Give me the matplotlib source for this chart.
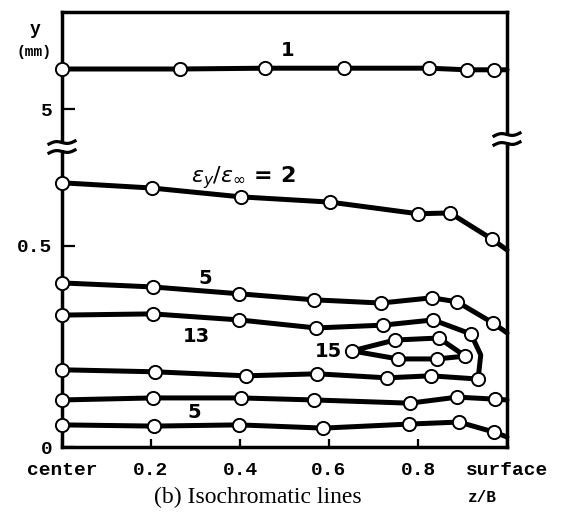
import numpy as np
import matplotlib
matplotlib.use("Agg")
import matplotlib.pyplot as plt
from matplotlib.lines import Line2D
from matplotlib.patches import Rectangle

# figure size in pixels
W, H = 562, 515

# --- contour data: z/B (0 = center, 1 = surface) vs y (mm) ---
# upper panel (broken axis), eps_y/eps_inf = 1
line1_z = [0.0, 0.265, 0.456, 0.634, 0.825, 0.910, 0.971, 1.0]
line1_y = [6.0, 6.0, 6.02, 6.02, 6.02, 5.98, 5.98, 5.98]
line1_mk = [1, 1, 1, 1, 1, 1, 1, 0]

# lower panel
line2_z = [0.0, 0.202, 0.402, 0.602, 0.800, 0.872, 0.966, 1.0]
line2_y = [0.657, 0.644, 0.622, 0.609, 0.580, 0.582, 0.517, 0.490]
line2_mk = [1, 1, 1, 1, 1, 1, 1, 0]

line5a_z = [0.0, 0.204, 0.398, 0.566, 0.717, 0.831, 0.888, 0.969, 1.0]
line5a_y = [0.408, 0.398, 0.381, 0.366, 0.358, 0.371, 0.361, 0.308, 0.284]
line5a_mk = [1, 1, 1, 1, 1, 1, 1, 1, 0]

# 13 contour: lower branch left->right, bend, upper branch right->left
line13_z = [0.0, 0.209, 0.413, 0.573, 0.730, 0.829, 0.935, 0.941,
            0.919, 0.834, 0.721, 0.571, 0.398, 0.204, 0.0]
line13_y = [0.192, 0.187, 0.177, 0.182, 0.172, 0.177, 0.169, 0.229,
            0.281, 0.316, 0.303, 0.296, 0.316, 0.331, 0.328]
line13_mk = [1, 1, 1, 1, 1, 1, 1, 0, 1, 1, 1, 1, 1, 1, 1]

# 15 closed loop
line15_z = [0.652, 0.748, 0.847, 0.906, 0.843, 0.755, 0.652]
line15_y = [0.239, 0.266, 0.271, 0.226, 0.219, 0.219, 0.239]
line15_mk = [1, 1, 1, 1, 1, 1, 0]

line6_z = [0.0, 0.204, 0.402, 0.566, 0.782, 0.888, 0.973, 1.0]
line6_y = [0.117, 0.122, 0.122, 0.117, 0.109, 0.124, 0.119, 0.117]
line6_mk = [1, 1, 1, 1, 1, 1, 1, 0]

line5b_z = [0.0, 0.207, 0.398, 0.587, 0.780, 0.892, 0.971, 1.0]
line5b_y = [0.055, 0.052, 0.055, 0.047, 0.057, 0.062, 0.037, 0.025]
line5b_mk = [1, 1, 1, 1, 1, 1, 1, 0]

xtick_pos = [0.0, 0.2, 0.4, 0.6, 0.8, 1.0]
xtick_lab = ["center", "0.2", "0.4", "0.6", "0.8", "surface"]

mono = "Liberation Mono"

fig = plt.figure(figsize=(W / 100, H / 100), dpi=100)

# axes boxes in pixels: left 62, right 507, top 12, break 147, bottom 447
def fx(px):
    return px / W

def fy(py):
    return 1 - py / H

left, right = fx(62), fx(507)
top, brk, bot = fy(12), fy(147), fy(447)
ax_top = fig.add_axes([left, brk, right - left, top - brk])
ax_bot = fig.add_axes([left, bot, right - left, brk - bot])

for ax in (ax_top, ax_bot):
    ax.set_xlim(0, 1)
    for s in ax.spines.values():
        s.set_linewidth(2.5)
ax_top.spines["bottom"].set_visible(False)
ax_bot.spines["top"].set_visible(False)
ax_top.set_ylim(4.05, 7.425)
ax_bot.set_ylim(0, 0.746)


def draw(ax, z, y, mk):
    ax.plot(z, y, color="black", lw=3.6, solid_capstyle="round",
            solid_joinstyle="round", zorder=3, clip_on=False)
    zm = [a for a, m in zip(z, mk) if m]
    ym = [b for b, m in zip(y, mk) if m]
    ax.plot(zm, ym, "o", ms=9.5, mfc="white", mec="black", mew=1.4,
            zorder=5, clip_on=False)


draw(ax_top, line1_z, line1_y, line1_mk)
draw(ax_bot, line2_z, line2_y, line2_mk)
draw(ax_bot, line5a_z, line5a_y, line5a_mk)
draw(ax_bot, line13_z, line13_y, line13_mk)
draw(ax_bot, line15_z, line15_y, line15_mk)
draw(ax_bot, line6_z, line6_y, line6_mk)
draw(ax_bot, line5b_z, line5b_y, line5b_mk)

# ticks
ax_top.set_xticks([])
ax_top.set_yticks([5])
ax_top.set_yticklabels(["5"])
ax_bot.set_yticks([0, 0.5])
ax_bot.set_yticklabels(["0", "0.5"])
ax_bot.set_xticks(xtick_pos)
ax_bot.set_xticklabels(xtick_lab)
for ax in (ax_top, ax_bot):
    ax.tick_params(axis="y", direction="in", length=9, width=1.6, pad=7,
                   labelsize=14)
    for t in ax.get_yticklabels():
        t.set_fontfamily(mono)
        t.set_fontweight("bold")
ax_bot.tick_params(axis="x", direction="in", length=6, width=1.6, pad=11,
                   labelsize=14)
for t in ax_bot.get_xticklabels():
    t.set_fontfamily(mono)
    t.set_fontweight("bold")

# contour labels
lab = dict(ha="center", va="center", fontsize=14, weight="bold")
ax_top.text(0.506, 6.475, "1", **lab)
ax_bot.text(0.407, 0.669, r"$\mathit{\varepsilon_y/\varepsilon_\infty}$ = 2",
            ha="center", va="center", fontsize=16, weight="bold")
ax_bot.text(0.321, 0.420, "5", **lab)
ax_bot.text(0.301, 0.276, "13", **lab)
ax_bot.text(0.598, 0.237, "15", **lab)
ax_bot.text(0.297, 0.085, "5", **lab)

# axis labels and caption
fig.text(fx(35), fy(30), "y", ha="center", va="center", fontsize=13,
         family=mono, weight="bold")
fig.text(fx(34), fy(52), "(mm)", ha="center", va="center", fontsize=10.5,
         family=mono, weight="bold")
fig.text(fx(482), fy(497), "z/B", ha="center", va="center", fontsize=11.5,
         family=mono, weight="bold")
fig.text(fx(258), fy(497), "(b) Isochromatic lines", ha="center",
         va="center", fontsize=17, family="Liberation Serif")

# broken-axis marks on both side spines
for cx, cy in [(62, 147), (507, 139)]:
    fig.add_artist(Rectangle((fx(cx - 7), fy(cy + 3)), 14 / W, 6 / H,
                             transform=fig.transFigure, facecolor="white",
                             edgecolor="none", zorder=10))
    xs = np.linspace(-13, 13, 30)
    for dy in (-4.5, 4.5):
        ys = cy + dy - 0.12 * xs + 1.6 * np.sin(xs / 13 * np.pi)
        fig.add_artist(Line2D(fx(cx + xs), fy(ys), transform=fig.transFigure,
                              color="black", lw=2.3, zorder=11))

fig.savefig("out.png", dpi=100)
